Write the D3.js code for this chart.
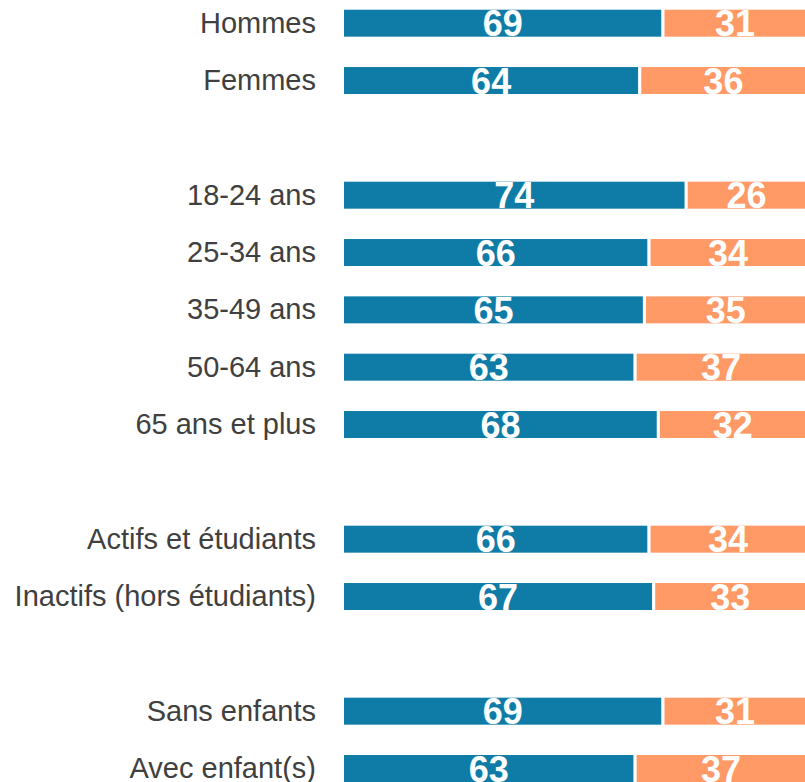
<!DOCTYPE html>
<html>
<head>
<meta charset="utf-8">
<script src="https://cdn.jsdelivr.net/npm/d3@7"></script>
<style>
  html, body { margin: 0; padding: 0; background: #ffffff; }
  svg { display: block; }
</style>
</head>
<body>
<div id="chart"></div>
<script>
// Row labels, grouped (a blank row separates each group)
const groups = [
  ["Hommes", "Femmes"],
  ["18-24 ans", "25-34 ans", "35-49 ans", "50-64 ans", "65 ans et plus"],
  ["Actifs et étudiants", "Inactifs (hors étudiants)"],
  ["Sans enfants", "Avec enfant(s)"]
];
const categories = groups.flat();
const firstValues = [69, 64, 74, 66, 65, 63, 68, 66, 67, 69, 63];
const secondValues = [31, 36, 26, 34, 35, 37, 32, 34, 33, 31, 37];

const colors = ["#0e7ca6", "#ff9966"];

const width = 805, height = 782;

// Row keys with spacer rows between groups
const rowKeys = [];
groups.forEach((g, i) => {
  if (i > 0) rowKeys.push("__gap" + i);
  g.forEach(c => rowKeys.push(c));
});

const data = categories.map((c, i) => ({
  label: c,
  segs: [
    { v: firstValues[i], x0: 0, x1: firstValues[i], k: 0 },
    { v: secondValues[i], x0: firstValues[i], x1: firstValues[i] + secondValues[i], k: 1 }
  ]
}));

const x = d3.scaleLinear().domain([0, 100]).range([342.5, 807]);
const y = d3.scaleBand().domain(rowKeys).range([8.2, 783.5]).paddingInner(0.477).paddingOuter(0);

const svg = d3.select("#chart").append("svg")
  .attr("width", width).attr("height", height)
  .attr("viewBox", [0, 0, width, height]);

const row = svg.selectAll("g.row").data(data).join("g")
  .attr("class", "row")
  .attr("transform", d => `translate(0,${y(d.label)})`);

row.selectAll("rect").data(d => d.segs).join("rect")
  .attr("x", s => x(s.x0))
  .attr("width", s => x(s.x1) - x(s.x0))
  .attr("y", 0)
  .attr("height", y.bandwidth())
  .attr("fill", s => colors[s.k])
  .attr("stroke", "#ffffff")
  .attr("stroke-width", 3);

row.selectAll("text.val").data(d => d.segs).join("text")
  .attr("class", "val")
  .attr("x", s => (x(s.x0) + x(s.x1)) / 2)
  .attr("y", y.bandwidth() / 2 + 13)
  .attr("text-anchor", "middle")
  .attr("font-family", "'Liberation Sans', Arial, sans-serif")
  .attr("font-weight", "bold")
  .attr("font-size", 36)
  .attr("fill", "#ffffff")
  .text(s => s.v);

row.append("text")
  .attr("class", "cat")
  .attr("x", 316)
  .attr("y", y.bandwidth() / 2 + 9.5)
  .attr("text-anchor", "end")
  .attr("font-family", "'Liberation Sans', Arial, sans-serif")
  .attr("font-size", 29)
  .attr("fill", "#404040")
  .text(d => d.label);
</script>
</body>
</html>
